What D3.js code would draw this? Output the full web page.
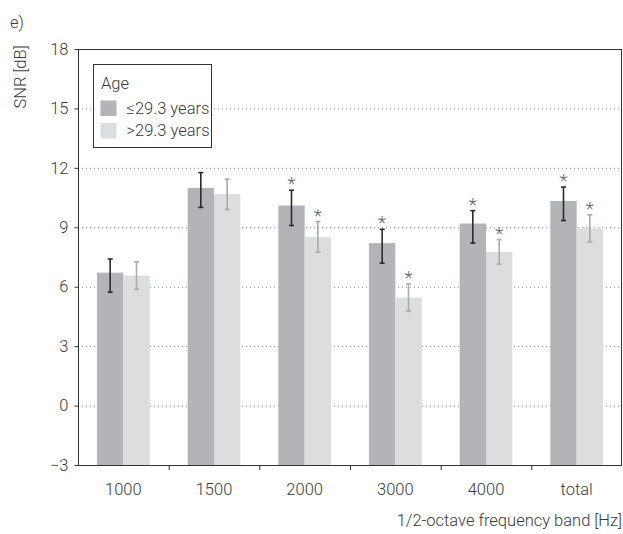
<!DOCTYPE html>
<html>
<head>
<meta charset="utf-8">
<title>SNR by frequency band and age</title>
<style>
  body { margin: 0; background: #ffffff; }
  svg text { font-family: Roboto, "Liberation Sans", sans-serif; font-weight: 300; fill: #3a3a3a; }
  .grid line { stroke: #8a8a8a; stroke-dasharray: 1,3; }
</style>
</head>
<body>
<div id="chart"></div>
<script src="https://d3js.org/d3.v7.min.js"></script>
<script>

// categories and series
var bands = ["1000", "1500", "2000", "3000", "4000", "total"]
var groups = ["young", "old"]
var groupLabels = ["≤29.3 years", ">29.3 years"]

// mean SNR [dB] per band
var youngMean = [6.71, 10.99, 10.10, 8.20, 9.19, 10.33]
var oldMean   = [6.56, 10.67, 8.50, 5.45, 7.76, 8.95]

// error bar ends
var youngLow  = [5.72, 10.00, 9.09, 7.19, 8.20, 9.34]
var youngHigh = [7.40, 11.76, 10.87, 8.90, 9.84, 11.03]
var oldLow    = [5.87, 9.89, 7.74, 4.76, 7.14, 8.26]
var oldHigh   = [7.25, 11.43, 9.29, 6.14, 8.38, 9.63]

// significance marks
var youngStar = [false, false, true, true, true, true]
var oldStar   = [false, false, true, true, true, true]

var yTicks = [-3, 0, 3, 6, 9, 12, 15, 18]

drawChart()

function drawChart() {

  var width = 623, height = 534
  var mLeft = 78, mRight = 622, mTop = 49, mBottom = 465
  var fs = "16.5px"

  var colors = { young: "#b3b4b7", old: "#dcdddf" }
  var errColors = { young: "#2a2a2a", old: "#ababab" }

  var rows = bands.map(function (b, i) {
    return {
      band: b,
      values: [
        { key: "young", mean: youngMean[i], lo: youngLow[i], hi: youngHigh[i], star: youngStar[i] },
        { key: "old", mean: oldMean[i], lo: oldLow[i], hi: oldHigh[i], star: oldStar[i] }
      ]
    }
  })

  var svg = d3.select("#chart").append("svg")
    .attr("width", width)
    .attr("height", height)

  var x0 = d3.scaleBand().domain(bands).range([mLeft, mRight]).padding(0)
  var x1 = d3.scaleBand().domain(groups).range([0, x0.bandwidth()]).paddingInner(0).paddingOuter(0.72)
  var y = d3.scaleLinear().domain([-3, 18]).range([mBottom, mTop])

  // dotted grid
  svg.append("g").attr("class", "grid")
    .selectAll("line")
    .data(yTicks.filter(function (d) { return d > -3 && d < 18 }))
    .enter().append("line")
    .attr("x1", mLeft).attr("x2", mRight)
    .attr("y1", function (d) { return y(d) + 0.5 })
    .attr("y2", function (d) { return y(d) + 0.5 })

  // bars
  var g = svg.append("g").selectAll("g")
    .data(rows)
    .enter().append("g")
    .attr("transform", function (d) { return "translate(" + x0(d.band) + ",0)" })

  g.selectAll("rect")
    .data(function (d) { return d.values })
    .enter().append("rect")
    .attr("x", function (d) { return x1(d.key) })
    .attr("width", x1.bandwidth())
    .attr("y", function (d) { return y(d.mean) })
    .attr("height", function (d) { return y(-3) - y(d.mean) })
    .attr("fill", function (d) { return colors[d.key] })

  // error bars
  var err = g.selectAll("g.err")
    .data(function (d) { return d.values })
    .enter().append("g")
    .attr("class", "err")
    .attr("stroke", function (d) { return errColors[d.key] })
    .attr("stroke-width", 1.6)

  err.append("line")
    .attr("x1", function (d) { return x1(d.key) + x1.bandwidth() / 2 })
    .attr("x2", function (d) { return x1(d.key) + x1.bandwidth() / 2 })
    .attr("y1", function (d) { return y(d.lo) })
    .attr("y2", function (d) { return y(d.hi) })

  err.selectAll("line.cap")
    .data(function (d) { return [d.lo, d.hi].map(function (v) { return { key: d.key, v: v } }) })
    .enter().append("line")
    .attr("class", "cap")
    .attr("x1", function (d) { return x1(d.key) + x1.bandwidth() / 2 - 2.5 })
    .attr("x2", function (d) { return x1(d.key) + x1.bandwidth() / 2 + 2.5 })
    .attr("y1", function (d) { return y(d.v) })
    .attr("y2", function (d) { return y(d.v) })

  // asterisks
  g.selectAll("text.star")
    .data(function (d) { return d.values.filter(function (v) { return v.star }) })
    .enter().append("text")
    .attr("class", "star")
    .attr("x", function (d) { return x1(d.key) + x1.bandwidth() / 2 })
    .attr("y", function (d) { return y(d.hi) })
    .attr("text-anchor", "middle")
    .style("font-size", "19px")
    .style("fill", "#666")
    .text("*")

  // frame
  svg.append("rect")
    .attr("x", mLeft + 0.5).attr("y", mTop + 0.5)
    .attr("width", mRight - mLeft - 1).attr("height", mBottom - mTop)
    .attr("fill", "none").attr("stroke", "#333").attr("stroke-width", 1)

  // y axis
  var yAxis = svg.append("g")
    .attr("transform", "translate(" + (mLeft + 0.5) + ",0)")
    .call(d3.axisLeft(y).tickValues(yTicks).tickSize(4).tickPadding(6)
      .tickFormat(function (d) { return d < 0 ? "\u2212" + Math.abs(d) : d }))
  yAxis.select(".domain").remove()
  yAxis.selectAll("line").attr("stroke", "#333")
  yAxis.attr("font-family", null)
  yAxis.selectAll("text").style("font-size", fs).style("fill", "#3a3a3a")

  // x axis: ticks between bands
  svg.append("g").selectAll("line")
    .data(bands.slice(1))
    .enter().append("line")
    .attr("x1", function (d) { return x0(d) + 0.5 })
    .attr("x2", function (d) { return x0(d) + 0.5 })
    .attr("y1", mBottom).attr("y2", mBottom + 5)
    .attr("stroke", "#333")

  svg.append("g").selectAll("text")
    .data(bands)
    .enter().append("text")
    .attr("x", function (d) { return x0(d) + x0.bandwidth() / 2 })
    .attr("y", 495)
    .attr("text-anchor", "middle")
    .style("font-size", fs)
    .text(function (d) { return d })

  svg.append("text")
    .attr("x", mRight)
    .attr("y", 526)
    .attr("text-anchor", "end")
    .style("font-size", fs)
    .text("1/2-octave frequency band [Hz]")

  svg.append("text")
    .attr("transform", "translate(26,77) rotate(-90)")
    .attr("text-anchor", "middle")
    .style("font-size", fs)
    .text("SNR [dB]")

  svg.append("text")
    .attr("x", 10).attr("y", 28)
    .style("font-size", fs)
    .text("e)")

  // legend
  var legend = svg.append("g").attr("transform", "translate(93.5,64.5)")
  legend.append("rect")
    .attr("width", 118).attr("height", 83)
    .attr("fill", "#fff").attr("stroke", "#333")
  legend.append("text").attr("x", 7.5).attr("y", 24).style("font-size", fs).text("Age")
  var items = legend.selectAll("g.item")
    .data(groups)
    .enter().append("g")
    .attr("class", "item")
    .attr("transform", function (d, i) { return "translate(7," + (36 + i * 22.5) + ")" })
  items.append("rect")
    .attr("width", 16).attr("height", 15.5)
    .attr("fill", function (d) { return colors[d] })
  items.append("text")
    .attr("x", 26).attr("y", 13)
    .style("font-size", fs)
    .text(function (d, i) { return groupLabels[i] })
}

</script>
</body>
</html>
